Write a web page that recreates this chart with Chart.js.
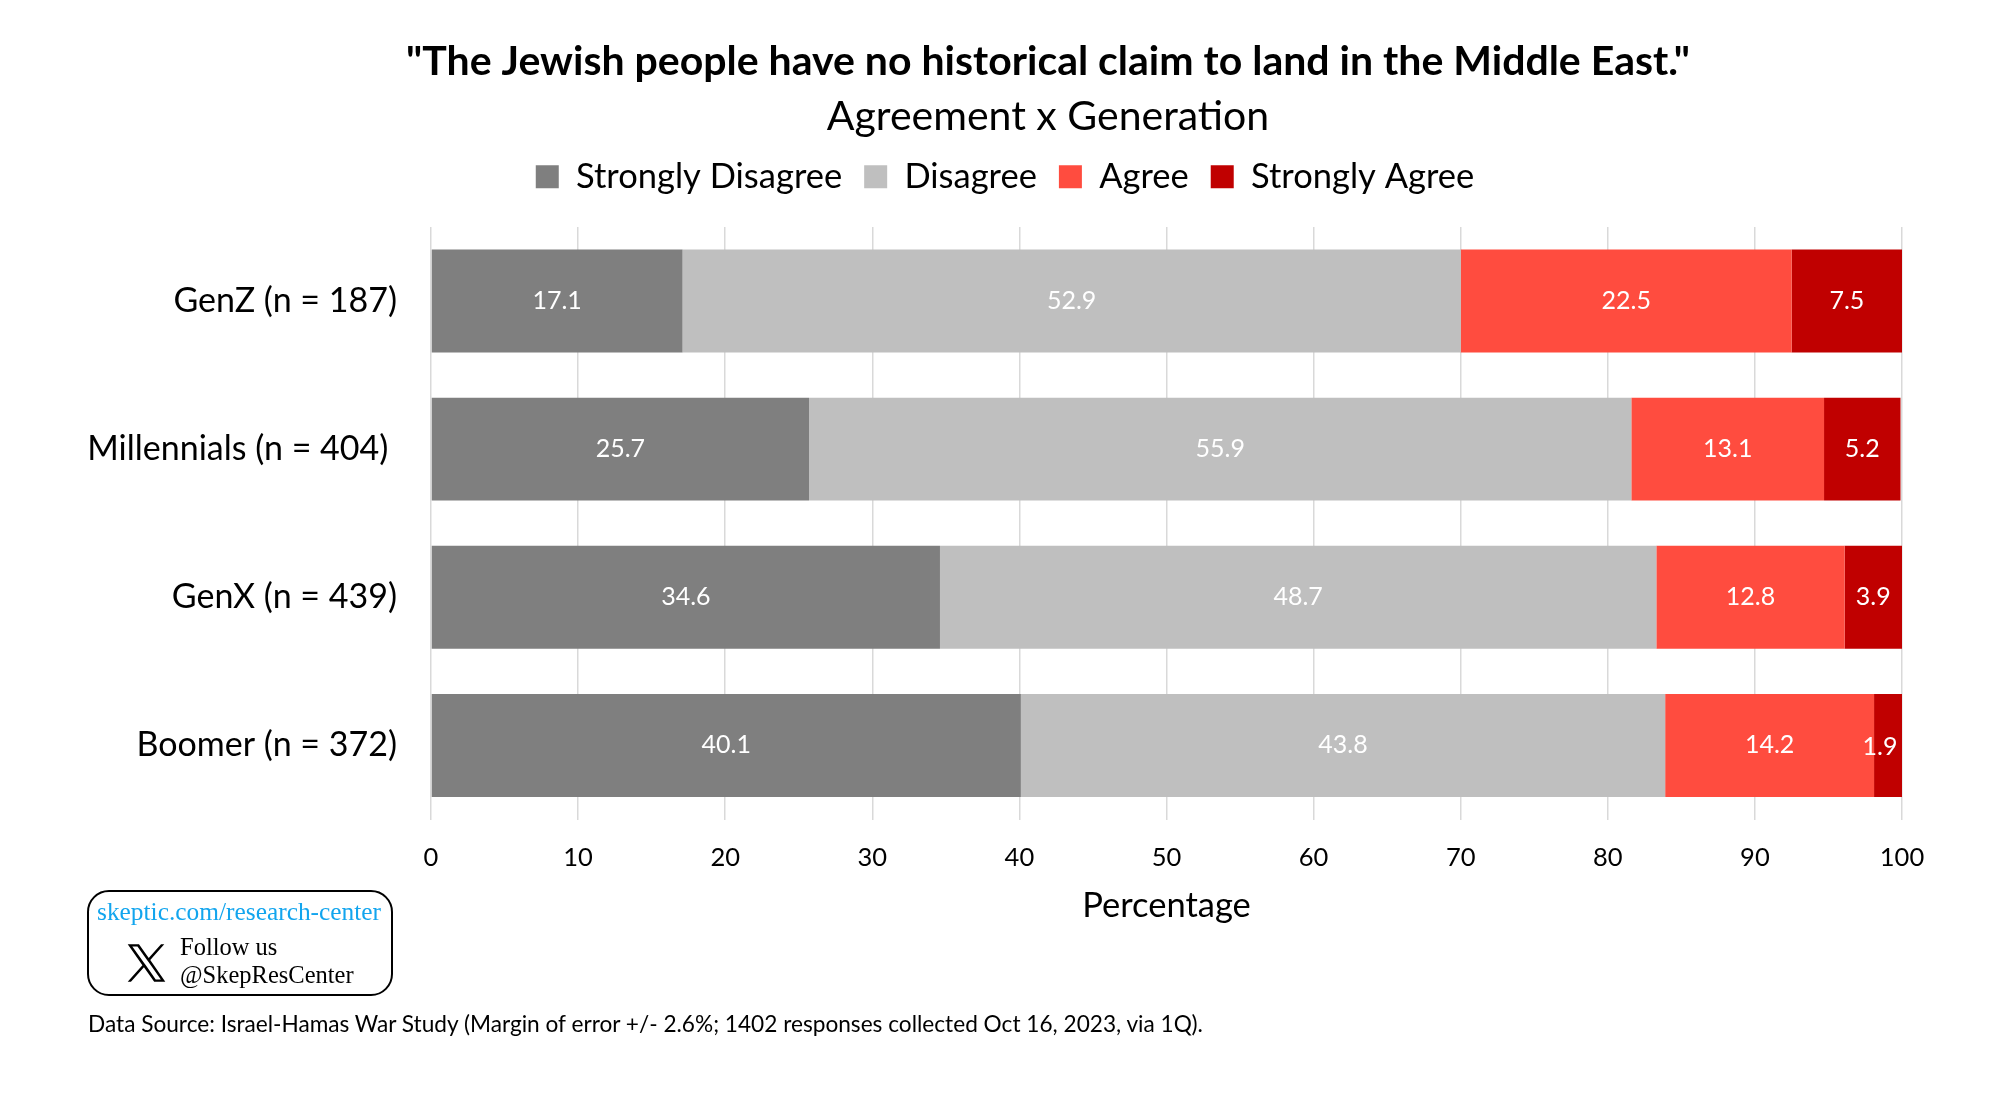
<!DOCTYPE html>
<html>
<head>
<meta charset="utf-8">
<title>Agreement x Generation</title>
<script src="https://cdn.jsdelivr.net/npm/chart.js@4"></script>
<style>
    html, body { margin: 0; padding: 0; background: #fff; }
    #wrap { position: relative; width: 2000px; height: 1099px; overflow: hidden; }
    #badge { position: absolute; left: 87px; top: 890px; width: 302px; height: 102px; border: 2px solid #000; border-radius: 22px; font-family: "Liberation Serif", serif; color: #000; }
    #badge .site { position: absolute; left: 8px; top: 5px; font-size: 25.4px; color: #12a5ee; white-space: nowrap; }
    #badge .follow { position: absolute; left: 91px; top: 41px; font-size: 24.5px; line-height: 28px; white-space: nowrap; }
    #badge svg { position: absolute; left: 37px; top: 50px; }
    #source { position: absolute; left: 88px; top: 1010px; font-family: Lato, sans-serif; font-size: 22.65px; color: #000; white-space: nowrap; }
</style>
</head>
<body>
<div id="wrap">
    <canvas id="chart" width="2000" height="1099"></canvas>
    <div id="badge">
        <div class="site">skeptic.com/research-center</div>
        <svg width="41" height="42" viewBox="0 0 24 24"><path d="M14.2 10.2 22.4 1h-1.9l-7.2 8-5.7-8H1l8.6 12.3L1 23h1.9l7.6-8.5 6 8.5H23L14.2 10.2Zm-2.7 3-.9-1.2L3.7 2.4h3l5.6 7.8.9 1.2 7.2 10.2h-3l-5.9-8.4Z"/></svg>
        <div class="follow">Follow us<br>@SkepResCenter</div>
    </div>
    <div id="source">Data Source: Israel-Hamas War Study (Margin of error +/- 2.6%; 1402 responses collected Oct 16, 2023, via 1Q).</div>
</div>
<script>
const categories = ['GenZ (n = 187)', 'Millennials (n = 404) ', 'GenX (n = 439)', 'Boomer (n = 372)'];
const stronglyDisagree = [17.1, 25.7, 34.6, 40.1];
const disagree = [52.9, 55.9, 48.7, 43.8];
const agree = [22.5, 13.1, 12.8, 14.2];
const stronglyAgree = [7.5, 5.2, 3.9, 1.9];

const FONT = 'Lato, sans-serif';

// Title is centred right of the page in the original, the legend nearly on it
const placeHeader = {
    id: 'placeHeader',
    afterLayout(chart) {
        chart.boxes.forEach(box => {
            if (box.constructor === chart.titleBlock.constructor) {
                box.left = 96;
                box.right = 2000;
            }
        });
        chart.legend.left = 10;
        chart.legend.right = 2000;
        chart.legend.top -= 23;
    }
};

const segmentLabels = {
    id: 'segmentLabels',
    afterDatasetsDraw(chart) {
        const ctx = chart.ctx;
        ctx.save();
        ctx.fillStyle = '#fff';
        ctx.font = `25px ${FONT}`;
        ctx.textAlign = 'center';
        ctx.textBaseline = 'middle';
        chart.data.datasets.forEach((ds, i) => {
            chart.getDatasetMeta(i).data.forEach((bar, j) => {
                // the thinnest segment's label sits off-centre in the original
                const thin = ds.data[j] < 3;
                ctx.fillText(ds.data[j].toFixed(1), (bar.x + bar.base) / 2 + (thin ? -8 : 0), bar.y + (thin ? 2 : 0));
            });
        });
        ctx.restore();
    }
};

new Chart(document.getElementById('chart'), {
    type: 'bar',
    data: {
        labels: categories,
        datasets: [
            { label: 'Strongly Disagree', data: stronglyDisagree, backgroundColor: '#7f7f7f' },
            { label: 'Disagree', data: disagree, backgroundColor: '#bfbfbf' },
            { label: 'Agree', data: agree, backgroundColor: '#ff4c3f' },
            { label: 'Strongly Agree', data: stronglyAgree, backgroundColor: '#c00000' }
        ]
    },
    plugins: [placeHeader, segmentLabels],
    options: {
        indexAxis: 'y',
        responsive: false,
        animation: false,
        devicePixelRatio: 1,
        layout: { padding: { top: 37, right: 98, bottom: 172.5, left: 0 } },
        datasets: { bar: { categoryPercentage: 0.695, barPercentage: 1 } },
        plugins: {
            title: {
                display: true,
                text: '"The Jewish people have no historical claim to land in the Middle East."',
                color: '#000',
                font: { family: FONT, size: 41, weight: 'bold' },
                padding: { top: 0, bottom: 6 }
            },
            subtitle: {
                display: true,
                text: 'Agreement x Generation',
                color: '#000',
                font: { family: FONT, size: 41, weight: 'normal' },
                padding: { top: 0, bottom: 19 }
            },
            legend: {
                position: 'top',
                labels: {
                    color: '#000',
                    font: { family: FONT, size: 34.5 },
                    boxWidth: 23,
                    boxHeight: 23,
                    padding: 22
                }
            },
            tooltip: { enabled: false }
        },
        scales: {
            x: {
                stacked: true,
                min: 0,
                max: 100,
                ticks: { stepSize: 10, color: '#000', font: { family: FONT, size: 25.5 }, padding: 22.5, maxRotation: 0 },
                grid: { color: '#d9d9d9', lineWidth: 1.5, drawTicks: false },
                border: { display: false },
                title: { display: true, text: 'Percentage', color: '#000', font: { family: FONT, size: 34.5 }, padding: { top: 0, bottom: 0 } },
                afterFit(scale) { scale.height = 107; }
            },
            y: {
                stacked: true,
                ticks: { color: '#000', font: { family: FONT, size: 34 }, padding: 34 },
                grid: { display: false, drawTicks: false },
                border: { display: false },
                afterFit(scale) { scale.width = 431; }
            }
        }
    }
});
</script>
</body>
</html>
